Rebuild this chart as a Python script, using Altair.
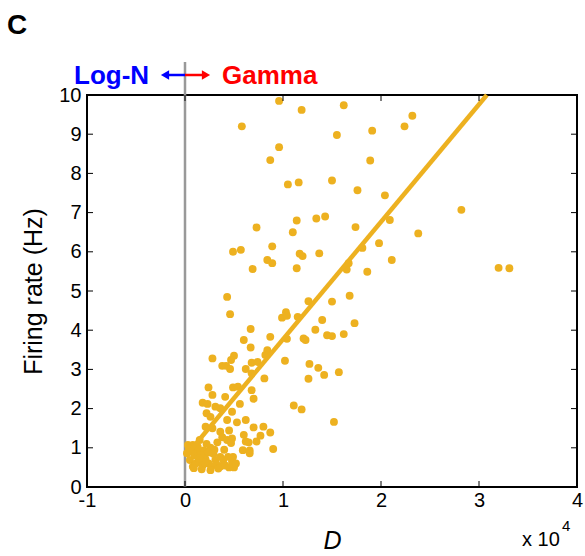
import altair as alt
import pandas as pd

# D values (x 10^4) and firing rates (Hz)
pt_x = [0.96, 1.19, 1.62, 0.58, 2.32, 2.24, 1.55, 1.91, 0.96, 0.87, 1.89, 1.05, 1.16, 1.50, 1.76, 2.04, 2.82,
        0.73, 1.14, 1.34, 1.43, 1.74, 2.09, 1.10, 2.38, 0.89, 0.49, 0.57, 1.81, 1.98, 1.17, 1.20, 1.37, 0.84,
        0.89, 1.67, 2.11, 0.69, 1.14, 1.65, 1.86, 3.20, 3.31,
        0.43, 0.46, 1.26, 1.50, 1.68, 1.03, 0.99, 1.04, 1.15, 1.40, 1.73, 0.67, 1.33, 1.45, 1.50, 1.62, 0.60,
        0.87, 1.04, 1.21, 1.23, 0.67, 0.84, 0.82, 0.28, 0.50, 0.47, 1.02, 0.38, 0.42, 0.46, 0.68, 0.74, 0.62,
        0.68, 1.27, 1.36, 1.42, 1.57, 1.26, 0.81, 0.24, 0.49, 0.54, 0.68, 0.28, 0.41, 0.70, 0.18, 0.23, 0.56,
        1.11, 1.19, 0.31, 0.36, 0.48, 0.22, 0.26, 0.43, 0.53, 0.62, 1.52, 0.21, 0.28, 0.70, 0.80, 0.87, 0.45,
        0.36, 0.60, 0.77, 0.48, 0.38, 0.62, 0.65, 0.73, 0.03, 0.90, 0.59, 0.66, 0.66,
        0.02, 0.08, 0.15, 0.12, 0.19, 0.26, 0.33, 0.43, 0.47, 0.05, 0.08, 0.14, 0.19, 0.24, 0.27, 0.31, 0.36,
        0.39, 0.44, 0.48, 0.49, 0.36, 0.41, 0.32, 0.26, 0.10, 0.17, 0.21, 0.29, 0.13, 0.22, 0.52, 0.50, 0.11,
        0.06, 0.18, 0.30, 0.40, 0.16, 0.09, 0.20, 0.34, 0.45, 0.14, 0.24, 0.04]
pt_y = [9.85, 9.62, 9.74, 9.20, 9.47, 9.20, 8.98, 9.09, 8.67, 8.34, 8.33, 7.72, 7.77, 7.82, 7.57, 7.44, 7.07,
        6.62, 6.80, 6.85, 6.90, 6.63, 6.81, 6.50, 6.47, 6.14, 6.00, 6.05, 6.10, 6.22, 5.95, 5.89, 5.96, 5.79,
        5.71, 5.71, 5.79, 5.56, 5.58, 5.55, 5.49, 5.59, 5.58,
        4.85, 4.41, 4.74, 4.73, 4.88, 4.46, 4.32, 4.37, 4.34, 4.26, 4.18, 4.03, 4.01, 3.87, 3.85, 3.90, 3.75,
        3.83, 3.78, 3.79, 3.75, 3.56, 3.49, 3.37, 3.28, 3.35, 3.24, 3.22, 3.09, 3.09, 3.01, 3.17, 3.19, 3.01,
        2.90, 3.14, 3.04, 2.86, 2.93, 2.76, 2.77, 2.54, 2.54, 2.56, 2.47, 2.35, 2.30, 2.25, 2.15, 2.12, 2.12,
        2.08, 1.98, 2.05, 2.01, 1.92, 1.88, 1.79, 1.71, 1.65, 1.71, 1.66, 1.54, 1.50, 1.52, 1.54, 1.39, 1.44,
        1.41, 1.33, 1.31, 1.24, 1.27, 1.16, 1.14, 1.16, 1.07, 0.97, 0.94, 0.93, 0.86,
        0.86, 1.07, 1.20, 0.93, 0.93, 1.00, 1.14, 1.20, 1.12, 0.69, 0.52, 0.65, 0.77, 0.60, 0.52, 0.69, 0.77,
        0.69, 0.77, 0.65, 0.77, 0.52, 0.55, 0.58, 0.43, 0.80, 0.45, 0.70, 0.85, 1.02, 1.10, 0.60, 0.50, 0.60,
        0.90, 0.55, 0.95, 0.95, 0.82, 0.48, 0.62, 0.47, 0.50, 0.72, 0.88, 0.98]

fit_x = [0.02, 3.08]
fit_y = [0.83, 10.0]

x_ticks = [-1, 0, 1, 2, 3, 4]
y_ticks = [0, 1, 2, 3, 4, 5, 6, 7, 8, 9, 10]

W, H = 490, 392
COL = "#EDB120"
FONT = "Liberation Sans"
TICK = 6

xs = alt.Scale(domain=[-1, 4], nice=False, zero=False)
ys = alt.Scale(domain=[0, 10], nice=False, zero=False)

AX = alt.Axis(values=x_ticks, labelExpr="datum.value", labelOverlap=False,
              title="D", ticks=False, domain=False,
              grid=False, labelFontSize=20, labelPadding=3,
              titleFontSize=25, titleFontStyle="italic",
              titleFontWeight="normal", titlePadding=18,
              labelFont=FONT, titleFont=FONT, labelColor="black",
              titleColor="black", labelFlush=False)
AY = alt.Axis(values=y_ticks, labelExpr="datum.value", labelOverlap=False,
              title="Firing rate (Hz)", ticks=False,
              domain=False, grid=False, labelFontSize=20, labelPadding=6,
              titleFontSize=25, titleFontWeight="normal", titlePadding=12,
              labelFont=FONT, titleFont=FONT, labelColor="black",
              titleColor="black", labelFlush=False)

pts_df = pd.DataFrame({"x": pt_x, "y": pt_y})
fit_df = pd.DataFrame({"x": fit_x, "y": fit_y})
xt_df = pd.DataFrame({"x": x_ticks})
yt_df = pd.DataFrame({"y": y_ticks})


def X():
    return alt.X("x:Q", scale=xs, axis=AX)


def Y():
    return alt.Y("y:Q", scale=ys, axis=AY)


zero_line = alt.Chart(pd.DataFrame({"x": [0]})).mark_rule(color="#999999", strokeWidth=2.5).encode(
    x=X(), y=alt.value(H), y2=alt.value(-33))

points = alt.Chart(pts_df).mark_circle(size=62, opacity=1, color=COL).encode(x=X(), y=Y())

fit = alt.Chart(fit_df).mark_line(color=COL, strokeWidth=4.5).encode(x=X(), y=Y())

tick_b = alt.Chart(xt_df).mark_rule(color="black", strokeWidth=1).encode(
    x=X(), y=alt.value(H), y2=alt.value(H - TICK))
tick_t = alt.Chart(xt_df).mark_rule(color="black", strokeWidth=1).encode(
    x=X(), y=alt.value(0), y2=alt.value(TICK))
tick_l = alt.Chart(yt_df).mark_rule(color="black", strokeWidth=1).encode(
    y=Y(), x=alt.value(0), x2=alt.value(TICK))
tick_r = alt.Chart(yt_df).mark_rule(color="black", strokeWidth=1).encode(
    y=Y(), x=alt.value(W), x2=alt.value(W - TICK))


def label(txt, x, y, size, color="black", weight="normal", align="left", baseline="alphabetic"):
    return alt.Chart(pd.DataFrame({"t": [txt]})).mark_text(
        font=FONT, fontSize=size, color=color, fontWeight=weight, align=align, baseline=baseline
    ).encode(x=alt.value(x), y=alt.value(y), text="t:N")


panel = label("C", -80, -61, 28, weight="bold")
logn = label("Log-N", -13, -11, 26, color="#0000FF", weight="bold")
gamma = label("Gamma", 135, -11, 26, color="#FF0000", weight="bold")
x10 = label("x 10", 435, 451, 20)
exp4 = label("4", 475, 436, 15)

blue_shaft = alt.Chart(pd.DataFrame({"a": [0]})).mark_rule(color="#0000FF", strokeWidth=2.5).encode(
    x=alt.value(80), x2=alt.value(98), y=alt.value(-20))
red_shaft = alt.Chart(pd.DataFrame({"a": [0]})).mark_rule(color="#FF0000", strokeWidth=2.5).encode(
    x=alt.value(98), x2=alt.value(116), y=alt.value(-20))
blue_head = alt.Chart(pd.DataFrame({"a": [0]})).mark_point(
    shape="triangle-left", filled=True, color="#0000FF", size=90, opacity=1).encode(
    x=alt.value(78), y=alt.value(-20))
red_head = alt.Chart(pd.DataFrame({"a": [0]})).mark_point(
    shape="triangle-right", filled=True, color="#FF0000", size=90, opacity=1).encode(
    x=alt.value(119), y=alt.value(-20))

chart = alt.layer(
    zero_line, points, fit, tick_b, tick_t, tick_l, tick_r,
    panel, logn, gamma, x10, exp4, blue_shaft, red_shaft, blue_head, red_head
).properties(
    width=W, height=H,
    autosize=alt.AutoSizeParams(type="none"),
    padding={"left": 87, "top": 95, "right": 8, "bottom": 69},
    background="white",
).configure_view(
    stroke="black", strokeWidth=2
)

chart.save("out.html", embed_options={"renderer": "svg", "actions": False})
